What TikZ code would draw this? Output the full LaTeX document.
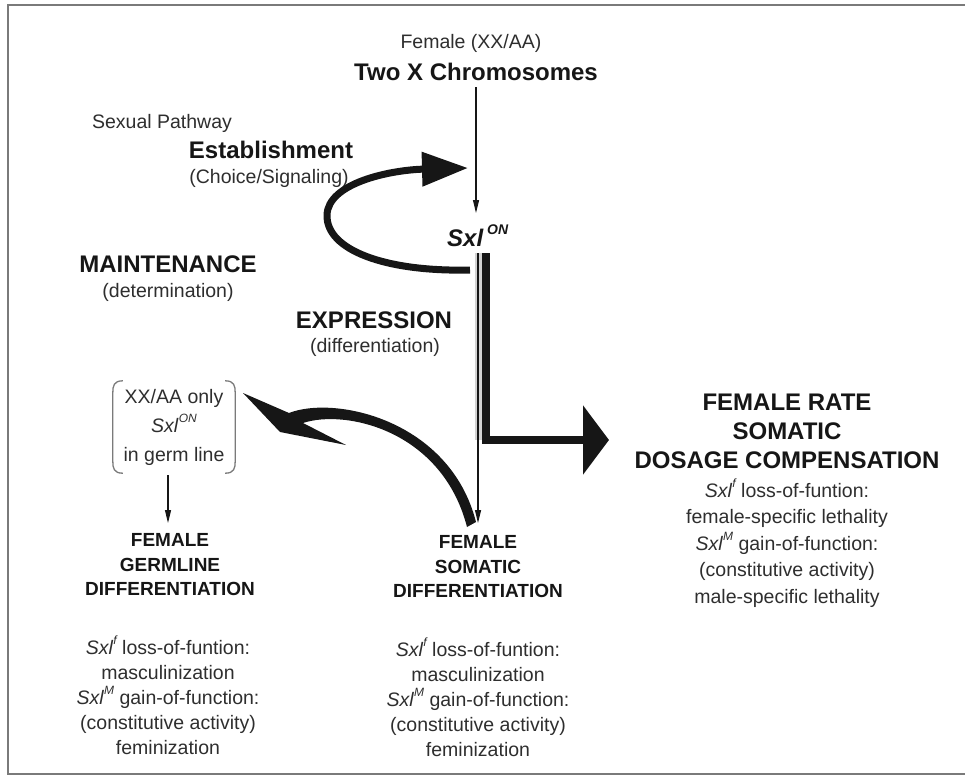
\documentclass[tikz,border=0pt]{standalone}
\usepackage{fontspec}
\setmainfont{Liberation Sans}
\usetikzlibrary{arrows.meta}
\definecolor{ink}{HTML}{161616}
\definecolor{softink}{HTML}{2E2E2E}
\definecolor{framegray}{HTML}{7A7A7A}
% allele name with a raised superscript
\newcommand\allele[2]{\textit{Sxl}\raisebox{.5em}{\fontsize{#2}{#2}\selectfont\itshape #1}}
\begin{document}
\begin{tikzpicture}[x=1pt,y=-1pt,
  every node/.style={inner sep=0pt,align=center,text=ink},
  bighead/.style={font=\fontsize{24}{29}\selectfont\bfseries},
  colhead/.style={font=\fontsize{19}{24.5}\selectfont\bfseries},
  note/.style={font=\fontsize{19.5}{25}\selectfont,text=softink},
  thinarrow/.style={draw=ink,line width=1.2pt,-{Triangle[length=13pt,width=6pt]}},
  bracket/.style={draw=framegray,line width=1.3pt},
]
\useasboundingbox (0,0) rectangle (965,778);
% outer frame
\draw[framegray,line width=1.5pt] (970,5) -- (8,5) -- (8,774) -- (970,774);

% top of the pathway
\node[note] (female) at (471,43) {Female (XX/AA)};
\node[bighead] (twox) at (476,72) {Two X Chromosomes};
\node[font=\fontsize{24}{24}\selectfont\bfseries\itshape,anchor=base west] (sxl) at (447,246)
  {Sxl\,\raisebox{.5em}{\fontsize{14}{14}\selectfont ON}};
\coordinate (sxltop) at (476,213);
\draw[thinarrow] (twox.south -| sxltop) ++(0,6) -- (sxltop);

% left-hand labels
\node[note] (pathway) at (162,123) {Sexual Pathway};
\node[bighead] (establish) at (271,150) {Establishment};
\node[note] (choice) at (269,178) {(Choice/Signaling)};
\node[bighead] (maint) at (168,264) {MAINTENANCE};
\node[note] (determ) at (168,292) {(determination)};
\node[bighead] (express) at (374,320) {EXPRESSION};
\node[note] (diffn) at (375,347) {(differentiation)};

% establishment / maintenance loop
\coordinate (loopstart) at (470,270);
\coordinate (loopend) at (468,168);
\draw[ink,line width=7pt,-{Triangle[length=46pt,width=33pt]}]
  (loopstart) .. controls (385,272) and (326,250) .. (327,215)
  .. controls (328,183) and (390,170) .. (loopend);

% expression: thick bar to dosage compensation, thin line to somatic
\coordinate (bartop) at (486,253);
\coordinate (barend) at (609,440);
\coordinate (somtip) at (478,523);
\fill[gray!35] (475,253) rectangle (482,440);
\draw[thinarrow] (somtip |- bartop) -- (somtip);
\draw[ink,line width=8.5pt,-{Triangle[length=26pt,width=68pt]}] (bartop) |- (barend);

% germ-line box
\node[note,minimum width=122pt,minimum height=92pt,font=\fontsize{19.5}{29}\selectfont] (germbox) at (174,427)
  {XX/AA only\\\allele{ON}{12}\\in germ line};
\draw[bracket] ([xshift=10pt]germbox.north west) .. controls ([xshift=1pt]germbox.north west) and ([xshift=0pt,yshift=-5pt]germbox.north west) .. ([yshift=-12pt]germbox.north west)
  -- ([yshift=12pt]germbox.south west) .. controls ([yshift=5pt]germbox.south west) and ([xshift=1pt]germbox.south west) .. ([xshift=10pt]germbox.south west);
\draw[bracket] ([xshift=-10pt]germbox.north east) .. controls ([xshift=-1pt]germbox.north east) and ([yshift=-5pt]germbox.north east) .. ([yshift=-12pt]germbox.north east)
  -- ([yshift=12pt]germbox.south east) .. controls ([yshift=5pt]germbox.south east) and ([xshift=-1pt]germbox.south east) .. ([xshift=-10pt]germbox.south east);
\coordinate (germtip) at (168,523);
\draw[thinarrow] (germbox.south -| germtip) ++(0,2) -- (germtip);

% curved arrow from somatic differentiation back to the germ line
\fill[ink] (243,393) -- (289,413) .. controls (335,395) and (450,420) .. (476,522)
  -- (467,527) .. controls (442,430) and (345,409) .. (303,423)
  -- (346,445) -- (280,432) -- cycle;

% outcome columns
\node[colhead] (germhead) at (170,565) {FEMALE\\GERMLINE\\DIFFERENTIATION};
\node[colhead] (somhead) at (478,567) {FEMALE\\SOMATIC\\DIFFERENTIATION};
\node[note] (germnote) at (168,695) {\allele{f}{12} loss-of-funtion:\\masculinization\\\allele{M}{12} gain-of-function:\\(constitutive activity)\\feminization};
\node[note] (somnote) at (478,697) {\allele{f}{12} loss-of-funtion:\\masculinization\\\allele{M}{12} gain-of-function:\\(constitutive activity)\\feminization};
\node[bighead] (dchead) at (787,431) {FEMALE RATE\\SOMATIC\\DOSAGE COMPENSATION};
\node[note,font=\fontsize{19.5}{26.5}\selectfont] (dcnote) at (787,543) {\allele{f}{12} loss-of-funtion:\\female-specific lethality\\\allele{M}{12} gain-of-function:\\(constitutive activity)\\male-specific lethality};
\end{tikzpicture}
\end{document}
